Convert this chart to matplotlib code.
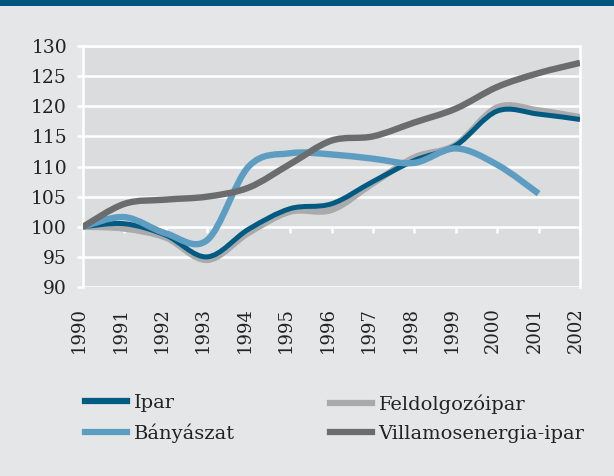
import matplotlib
matplotlib.use("Agg")
import matplotlib.pyplot as plt
from matplotlib.path import Path
from matplotlib.patches import PathPatch
from matplotlib.lines import Line2D
import matplotlib.patches as mpatches
import matplotlib.transforms as mtransforms
import numpy as np

years = [1990, 1991, 1992, 1993, 1994, 1995, 1996, 1997, 1998, 1999, 2000, 2001, 2002]
ipar = [100, 100.5, 98.6, 95.0, 99.6, 103.0, 103.8, 107.5, 111.0, 113.5, 119.2, 118.7, 117.8]
feldolgozo = [100, 99.7, 98.2, 94.5, 99.0, 102.5, 102.8, 107.2, 111.5, 113.6, 119.8, 119.3, 118.2]
banyaszat = [100, 101.6, 98.9, 97.8, 110.0, 112.2, 112.0, 111.3, 110.6, 113.0, 110.3, 105.5]
villamos = [100, 103.8, 104.5, 105.0, 106.5, 110.4, 114.3, 115.0, 117.3, 119.6, 123.2, 125.5, 127.2]

series_names = ["Ipar", "Bányászat", "Feldolgozóipar", "Villamosenergia-ipar"]
colors = {"Ipar": "#005a82", "Bányászat": "#5e9dc2",
          "Feldolgozóipar": "#a9aaac", "Villamosenergia-ipar": "#6b6c6e"}
widths = {"Ipar": 3.6, "Bányászat": 4.6, "Feldolgozóipar": 4.6, "Villamosenergia-ipar": 4.6}

plt.rcParams['font.family'] = ['DejaVu Serif']
FS = 13.5
TXT = "#222222"
BG = "#e5e6e8"
PANEL = "#dbdcde"

fig = plt.figure(figsize=(6.14, 4.76), dpi=100, facecolor=BG)
fig.patches.append(mpatches.Rectangle((0, 1 - 6/476), 1, 6/476, transform=fig.transFigure,
                                      facecolor="#005580", edgecolor="none"))

ax = fig.add_axes([83/614, 1 - 287/476, (580 - 83)/614, (287 - 46)/476])
ax.set_facecolor(PANEL)


def smooth_path(xs, ys):
    pts = np.column_stack([xs, ys]).astype(float)
    n = len(pts)
    verts = [pts[0]]
    codes = [Path.MOVETO]
    for i in range(n - 1):
        p0 = pts[i - 1] if i > 0 else pts[i]
        p1 = pts[i]
        p2 = pts[i + 1]
        p3 = pts[i + 2] if i + 2 < n else pts[i + 1]
        c1 = p1 + (p2 - p0) / 6.0
        c2 = p2 - (p3 - p1) / 6.0
        verts += [c1, c2, p2]
        codes += [Path.CURVE4] * 3
    return Path(verts, codes)


data = {"Ipar": ipar, "Bányászat": banyaszat, "Feldolgozóipar": feldolgozo,
        "Villamosenergia-ipar": villamos}
draw_order = ["Feldolgozóipar", "Ipar", "Bányászat", "Villamosenergia-ipar"]
for z, name in enumerate(draw_order):
    vals = data[name]
    p = smooth_path(years[:len(vals)], vals)
    patch = PathPatch(p, facecolor="none", edgecolor=colors[name], lw=widths[name],
                      capstyle="butt", joinstyle="round", zorder=3 + z)
    ax.add_patch(patch)

ax.set_xlim(1990, 2002)
ax.set_ylim(90, 130)
ax.set_yticks(range(90, 131, 5))
ax.yaxis.grid(True, color="white", lw=1.8)
ax.set_axisbelow(True)
for s in ["left", "right", "top"]:
    ax.spines[s].set_color("white")
    ax.spines[s].set_linewidth(1.8)
ax.spines["bottom"].set_position(("data", 100))
ax.spines["bottom"].set_visible(False)
ax.tick_params(axis="y", colors="white", length=4.5, width=1.8, labelcolor=TXT,
               labelsize=FS, pad=7)
ax.set_xticks(years)
ax.tick_params(axis="x", colors="white", length=4, width=1.8, direction="out",
               labelbottom=False)

# year labels under the plot
trans = mtransforms.blended_transform_factory(ax.transData, ax.transAxes) + \
    mtransforms.ScaledTranslation(-4/100, -20/100, fig.dpi_scale_trans)
for y in years:
    ax.text(y, 0, str(y), rotation=90, ha="center", va="top", fontsize=13,
            color=TXT, transform=trans, clip_on=False)

handles = {n: Line2D([], [], color=colors[n], lw=4.5) for n in series_names}
common = dict(loc="upper left", frameon=False, fontsize=14, handlelength=2.15,
              handletextpad=0.35, labelspacing=0.6, borderpad=0, borderaxespad=0,
              labelcolor=TXT)
leg1 = fig.legend([handles["Ipar"], handles["Bányászat"]], ["Ipar", "Bányászat"],
                  bbox_to_anchor=(85/614, 1 - 394/476), **common)
leg2 = fig.legend([handles["Feldolgozóipar"], handles["Villamosenergia-ipar"]],
                  ["Feldolgozóipar", "Villamosenergia-ipar"],
                  bbox_to_anchor=(330/614, 1 - 394/476), **common)

fig.savefig("out.png", dpi=100, facecolor=BG)
